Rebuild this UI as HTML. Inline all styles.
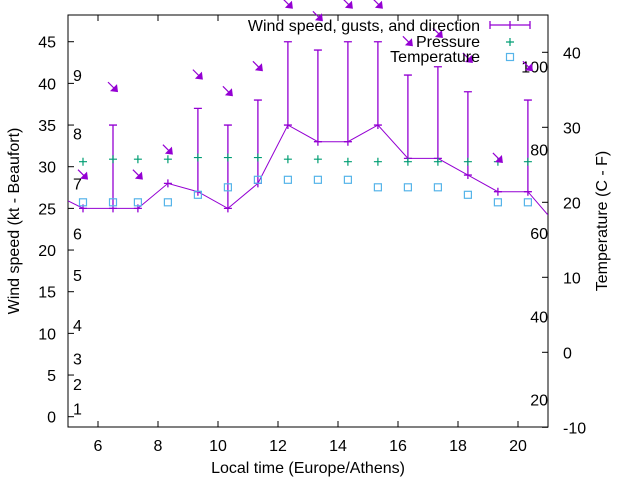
<!DOCTYPE html>
<html><head><meta charset="utf-8"><style>
html,body{margin:0;padding:0;background:#fff}
svg{display:block;font-family:"Liberation Sans",sans-serif}
</style></head><body>
<svg id="chart" width="640" height="480" viewBox="0 0 640 480"></svg>
<script>
const hours = [5.5,6.5,7.33,8.33,9.33,10.33,11.33,12.33,13.33,14.33,15.33,16.33,17.33,18.33,19.33,20.33];
const windSpeed = [25,25,25,28,27,25,28,35,33,33,35,31,31,29,27,27];
const windGust = [25,35,25,28,37,35,38,45,44,45,45,41,42,39,27,38];
const pressure = [30.6,30.9,30.9,30.9,31.1,31.1,31.1,30.9,30.9,30.6,30.6,30.6,30.6,30.6,30.6,30.6];
const temperature = [20,20,20,20,21,22,23,23,23,23,22,22,22,21,20,20];
const humidity = [74,95,74,80,98,94,100,115,112,115,115,106,108,102,78,100];
const windEdgeLeft = 25.9;
const windEdgeRight = 24.2;
const xTicks = [6,8,10,12,14,16,18,20];
const yTicks = [0,5,10,15,20,25,30,35,40,45];
const y2Ticks = [-10,0,10,20,30,40];
const beaufortLabels = ["1","2","3","4","5","6","7","8","9"];
const beaufortKt = [1,3.9,7,11,17,22,28,34,41];
const humidityLabels = [20,40,60,80,100];

const FS=16;
const L=68,R=548,T=15,B=427;
const xs=v=>L+(v-5)/(21-5)*(R-L);
const ys=v=>416.7-v*8.333;
const y2s=v=>427.3-(v+10)*7.5;
const yh=v=>483-v*4.167;
const NS="http://www.w3.org/2000/svg";
const svg=document.getElementById('chart');
function mk(tag,attrs,parent){const e=document.createElementNS(NS,tag);for(const k in attrs)e.setAttribute(k,attrs[k]);(parent||svg).appendChild(e);return e;}
const purple="#9400d3";

const frame=mk('rect',{x:L,y:T,width:R-L,height:B-T,fill:'none',stroke:'#000','stroke-width':1});



xTicks.forEach(v=>{
  const x=xs(v);
  const t1=mk('line',{x1:x,x2:x,y1:B,y2:B-6,stroke:'#000'});
  
  
  const t2=mk('line',{x1:x,x2:x,y1:T,y2:T+6,stroke:'#000'});
  
  
  const tx=mk('text',{x:x,y:451,'text-anchor':'middle','font-size':FS});
  tx.textContent=v;
  
  
});
yTicks.forEach(v=>{
  const y=ys(v);
  const t=mk('line',{x1:L,x2:L+6,y1:y,y2:y,stroke:'#000'});
  
  
  const tx=mk('text',{x:56,y:y+6,'text-anchor':'end','font-size':FS});
  tx.textContent=v;
  
  
});
y2Ticks.forEach(v=>{
  const y=y2s(v);
  const t=mk('line',{x1:R,x2:R-6,y1:y,y2:y,stroke:'#000'});
  
  
  const tx=mk('text',{x:563,y:y+6,'text-anchor':'start','font-size':FS});
  tx.textContent=v;
  
  
});
beaufortLabels.forEach((s,i)=>{
  const tx=mk('text',{x:73,y:ys(beaufortKt[i])+6,'font-size':FS});
  tx.textContent=s;
  
  
});
humidityLabels.forEach(v=>{
  const tx=mk('text',{x:548,y:yh(v)+6,'text-anchor':'end','font-size':FS});
  tx.textContent=v;
  
  
});

const defs=mk('defs',{});
const cp=mk('clipPath',{id:'clip'},defs);
mk('rect',{x:L,y:0,width:R-L,height:B},cp);
const g=mk('g',{'clip-path':'url(#clip)'});



let pts=[[L,ys(windEdgeLeft)]].concat(hours.map((h,i)=>[xs(h),ys(windSpeed[i])])).concat([[R,ys(windEdgeRight)]]);
const wl=mk('polyline',{points:pts.map(p=>p.join(',')).join(' '),fill:'none',stroke:purple,'stroke-width':1},g);


hours.forEach((h,i)=>{
  const x=xs(h),y=ys(windSpeed[i]),yg=ys(windGust[i]);
  const bar=mk('path',{d:`M${x},${y}V${yg}M${x-4},${yg}H${x+4}M${x-4},${y}H${x+4}M${x},${y-4}V${y+4}`,stroke:purple,'stroke-width':1.3,fill:'none'},g);
  
  
  const px=xs(h),py=ys(pressure[i]);
  const p=mk('path',{d:`M${px-4},${py}H${px+4}M${px},${py-4}V${py+4}`,stroke:'#009e73','stroke-width':1.2},g);
  
  
  const ty=y2s(temperature[i]);
  const sq=mk('rect',{x:px-3.5,y:ty-3.5,width:7,height:7,fill:'none',stroke:'#56b4e9','stroke-width':1.2},g);
  
  
});
hours.forEach((h,i)=>{
  const cx=xs(h),cy=yh(humidity[i]);
  const x1=cx-5,y1=cy-5,x2=cx+5,y2=cy+5;
  const a=mk('g',{},svg);
  
  
  mk('line',{x1:x1,y1:y1,x2:x2-3,y2:y2-3,stroke:purple,'stroke-width':1.2},a);
  mk('polygon',{points:`${x2},${y2} ${x2-8},${y2-1} ${x2-1},${y2-8}`,fill:purple},a);
});

const leg=mk('g',{});


[["Wind speed, gusts, and direction",25],["Pressure",41],["Temperature",56]].forEach(([s,y])=>{
  const t=mk('text',{x:480,y:y+6,'text-anchor':'end','font-size':FS},leg);
  t.textContent=s;
  
  
});
mk('path',{d:'M490,25H530M490,21V29M530,21V29M510,21V29',stroke:purple,'stroke-width':1.3,fill:'none'},leg);
mk('path',{d:'M506,42H514M510,38V46',stroke:'#009e73','stroke-width':1.2},leg);
mk('rect',{x:506.5,y:53.5,width:7,height:7,fill:'none',stroke:'#56b4e9','stroke-width':1.2},leg);

const xt=mk('text',{x:308,y:473,'text-anchor':'middle','font-size':FS});
xt.textContent="Local time (Europe/Athens)";


const yt=mk('text',{x:0,y:0,'text-anchor':'middle','font-size':FS,transform:'translate(19,221) rotate(-90)'});
yt.textContent="Wind speed (kt - Beaufort)";


const y2t=mk('text',{x:0,y:0,'text-anchor':'middle','font-size':FS,transform:'translate(607,221) rotate(-90)'});
y2t.textContent="Temperature (C - F)";


</script>
</body></html>
